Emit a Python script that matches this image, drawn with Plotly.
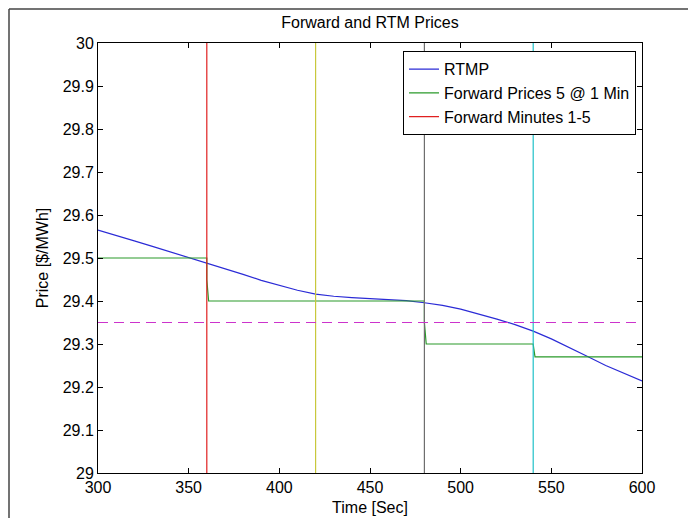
import plotly.graph_objects as go

# ---- data ----
rtmp_t = [300, 310, 320, 330, 340, 350, 360, 370, 380, 390, 400, 410, 420, 430, 440,
          450, 460, 470, 480, 490, 500, 510, 520, 530, 540, 550, 560, 570, 580, 590, 600]
rtmp_v = [29.565, 29.553, 29.540, 29.527, 29.514, 29.502, 29.488, 29.475, 29.462, 29.448,
          29.436, 29.425, 29.416, 29.411, 29.408, 29.406, 29.403, 29.401, 29.396, 29.390,
          29.381, 29.370, 29.358, 29.345, 29.330, 29.312, 29.292, 29.271, 29.250, 29.232, 29.214]

fwd_t = [300, 360, 360, 361, 480, 480, 481, 540, 540.3, 541, 600]
fwd_v = [29.50, 29.50, 29.45, 29.40, 29.40, 29.35, 29.30, 29.30, 29.29, 29.27, 29.27]

minute_marks = [360, 420, 480, 540]
minute_colors = ["#e02020", "#c8c83c", "#6e6e6e", "#20c0c8"]
threshold = 29.35

x_ticks = [300, 350, 400, 450, 500, 550, 600]
y_ticks = [29.0, 29.1, 29.2, 29.3, 29.4, 29.5, 29.6, 29.7, 29.8, 29.9, 30.0]
y_labels = ["29", "29.1", "29.2", "29.3", "29.4", "29.5", "29.6", "29.7", "29.8", "29.9", "30"]
y_range = [29, 30]

FONT = "Liberation Sans, Arial, sans-serif"

fig = go.Figure()

fig.add_trace(go.Scatter(x=rtmp_t, y=rtmp_v, mode="lines", name="RTMP",
                         line=dict(color="#2b2bd6", width=1.2)))
fig.add_trace(go.Scatter(x=fwd_t, y=fwd_v, mode="lines", name="Forward Prices 5 @ 1 Min",
                         line=dict(color="#2a9a2a", width=1.2)))
for i, (m, c) in enumerate(zip(minute_marks, minute_colors)):
    fig.add_trace(go.Scatter(x=[m, m], y=y_range, mode="lines",
                             name="Forward Minutes 1-5", showlegend=(i == 0),
                             line=dict(color=c, width=1.2)))
fig.add_trace(go.Scatter(x=[x_ticks[0], x_ticks[-1]], y=[threshold, threshold], mode="lines",
                         showlegend=False, line=dict(color="#cc33cc", width=1.2, dash="10px,6px")))

axis_common = dict(showline=True, linecolor="black", linewidth=1, mirror="ticks",
                   ticks="inside", ticklen=5, tickcolor="black", showgrid=False,
                   zeroline=False, automargin=False,
                   tickfont=dict(family=FONT, size=16, color="black"))

fig.update_xaxes(range=[300, 600], tickvals=x_ticks, ticktext=[str(v) for v in x_ticks],
                 title=dict(text="Time [Sec]", font=dict(family=FONT, size=16, color="black"),
                            standoff=6),
                 **axis_common)
fig.update_yaxes(range=y_range, tickvals=y_ticks, ticktext=y_labels,
                 title=dict(text="Price [$/MWh]", font=dict(family=FONT, size=16, color="black"),
                            standoff=10),
                 **axis_common)

W, H = 680, 510
fig.update_layout(
    width=W, height=H,
    margin=dict(l=90, r=46, t=35, b=45, autoexpand=False),
    paper_bgcolor="white", plot_bgcolor="white",
    title=dict(text="Forward and RTM Prices", x=0.5, xref="paper", xanchor="center",
               y=1 - 14 / H, yanchor="middle",
               font=dict(family=FONT, size=16, color="black")),
    legend=dict(x=0.989, y=0.981, xanchor="right", yanchor="top",
                bgcolor="white", bordercolor="black", borderwidth=1,
                font=dict(family=FONT, size=16, color="black")),
    shapes=[
        dict(type="line", xref="paper", yref="paper", x0=-0.1636, x1=-0.1636,
             y0=1.079, y1=-0.2, line=dict(color="#444444", width=1.5)),
        dict(type="line", xref="paper", yref="paper", x0=-0.1636, x1=1.2,
             y0=1.079, y1=1.079, line=dict(color="#444444", width=1.5)),
    ],
)

fig.write_html("out.html")
